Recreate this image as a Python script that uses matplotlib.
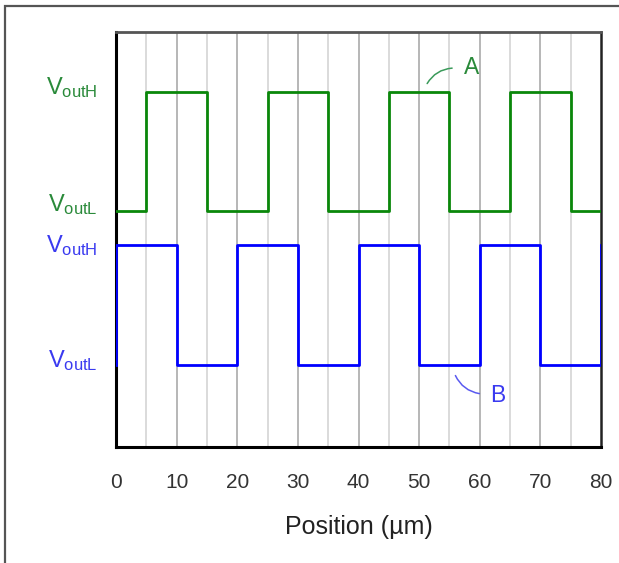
import matplotlib.pyplot as plt
from matplotlib.patches import Rectangle
from matplotlib.transforms import blended_transform_factory

plt.rcParams['font.family'] = ['Liberation Sans', 'DejaVu Sans']
plt.rcParams['mathtext.fontset'] = 'custom'
plt.rcParams['mathtext.rm'] = 'Liberation Sans'

# signal levels (arbitrary units)
green_high = 355
green_low = 236
blue_high = 202
blue_low = 82

# wave A (green): switching positions in um and state after each point
a_x = [0, 5, 15, 25, 35, 45, 55, 65, 75, 80]
a_state = [0, 1, 0, 1, 0, 1, 0, 1, 0, 0]
# wave B (blue)
b_x = [0, 0, 10, 20, 30, 40, 50, 60, 70, 80, 80]
b_state = [0, 1, 0, 1, 0, 1, 0, 1, 0, 0, 1]

x_ticks = [0, 10, 20, 30, 40, 50, 60, 70, 80]
grid_major = [10, 20, 30, 40, 50, 60, 70]
grid_minor = [5, 15, 25, 35, 45, 55, 65, 75]

line_green = '#0a870a'
text_green = '#2a8a3a'
line_blue = '#0000ff'
text_blue = '#3a3af0'

a_y = [green_high if s else green_low for s in a_state]
b_y = [blue_high if s else blue_low for s in b_state]

fig = plt.figure(figsize=(6.19, 5.63), dpi=100)
ax = fig.add_axes([116 / 619, 1 - 447 / 563, 485 / 619, 415 / 563])

for g in grid_minor:
    ax.axvline(g, color='#d4d4d4', lw=1.2, zorder=1)
for g in grid_major:
    ax.axvline(g, color='#aaaaaa', lw=1.2, zorder=1)

ax.plot(a_x, a_y, drawstyle='steps-post', color=line_green, lw=2.0, zorder=3)
ax.plot(b_x, b_y, drawstyle='steps-post', color=line_blue, lw=2.0, zorder=3)

ax.set_xlim(0, 80)
ax.set_ylim(0, 415)
ax.set_yticks([])
ax.set_xticks(x_ticks)
ax.tick_params(axis='x', length=0, pad=19, labelsize=15, labelcolor='#333333')
ax.set_xlabel('Position (µm)', fontsize=18, color='#222222', labelpad=16)

for side in ['left', 'bottom']:
    ax.spines[side].set_linewidth(2.2)
    ax.spines[side].set_color('black')
ax.spines['top'].set_linewidth(2.0)
ax.spines['top'].set_color('#555555')
ax.spines['right'].set_linewidth(1.8)
ax.spines['right'].set_color('#222222')

# level labels on the left
tr = blended_transform_factory(ax.transAxes, ax.transData)
ax.text(-0.037, green_high - 2, r'$\mathregular{V_{outH}}$', transform=tr,
        ha='right', va='baseline', fontsize=17, color=text_green)
ax.text(-0.037, green_low, r'$\mathregular{V_{outL}}$', transform=tr,
        ha='right', va='baseline', fontsize=17, color=text_green)
ax.text(-0.037, blue_high - 7, r'$\mathregular{V_{outH}}$', transform=tr,
        ha='right', va='baseline', fontsize=17, color=text_blue)
ax.text(-0.037, blue_low - 2, r'$\mathregular{V_{outL}}$', transform=tr,
        ha='right', va='baseline', fontsize=17, color=text_blue)

# curve labels
ax.annotate('', xy=(51.1, 361), xytext=(55.9, 379),
            arrowprops=dict(arrowstyle='-', color='#3a9a5a', lw=1.1,
                            connectionstyle='arc3,rad=0.3'))
ax.text(58.6, 379, 'A', ha='center', va='center', fontsize=16.5, color=text_green)
ax.annotate('', xy=(55.8, 74), xytext=(60.4, 53),
            arrowprops=dict(arrowstyle='-', color='#5a5af0', lw=1.1,
                            connectionstyle='arc3,rad=-0.3'))
ax.text(63.0, 52, 'B', ha='center', va='center', fontsize=16.5, color=text_blue)

# outer frame
fig.patches.append(Rectangle((4.5 / 619, -0.1), 1.2, 1.1 - 6.5 / 563,
                             transform=fig.transFigure, fill=False,
                             ec='#555555', lw=1.6))

fig.savefig('out.png', dpi=100)
